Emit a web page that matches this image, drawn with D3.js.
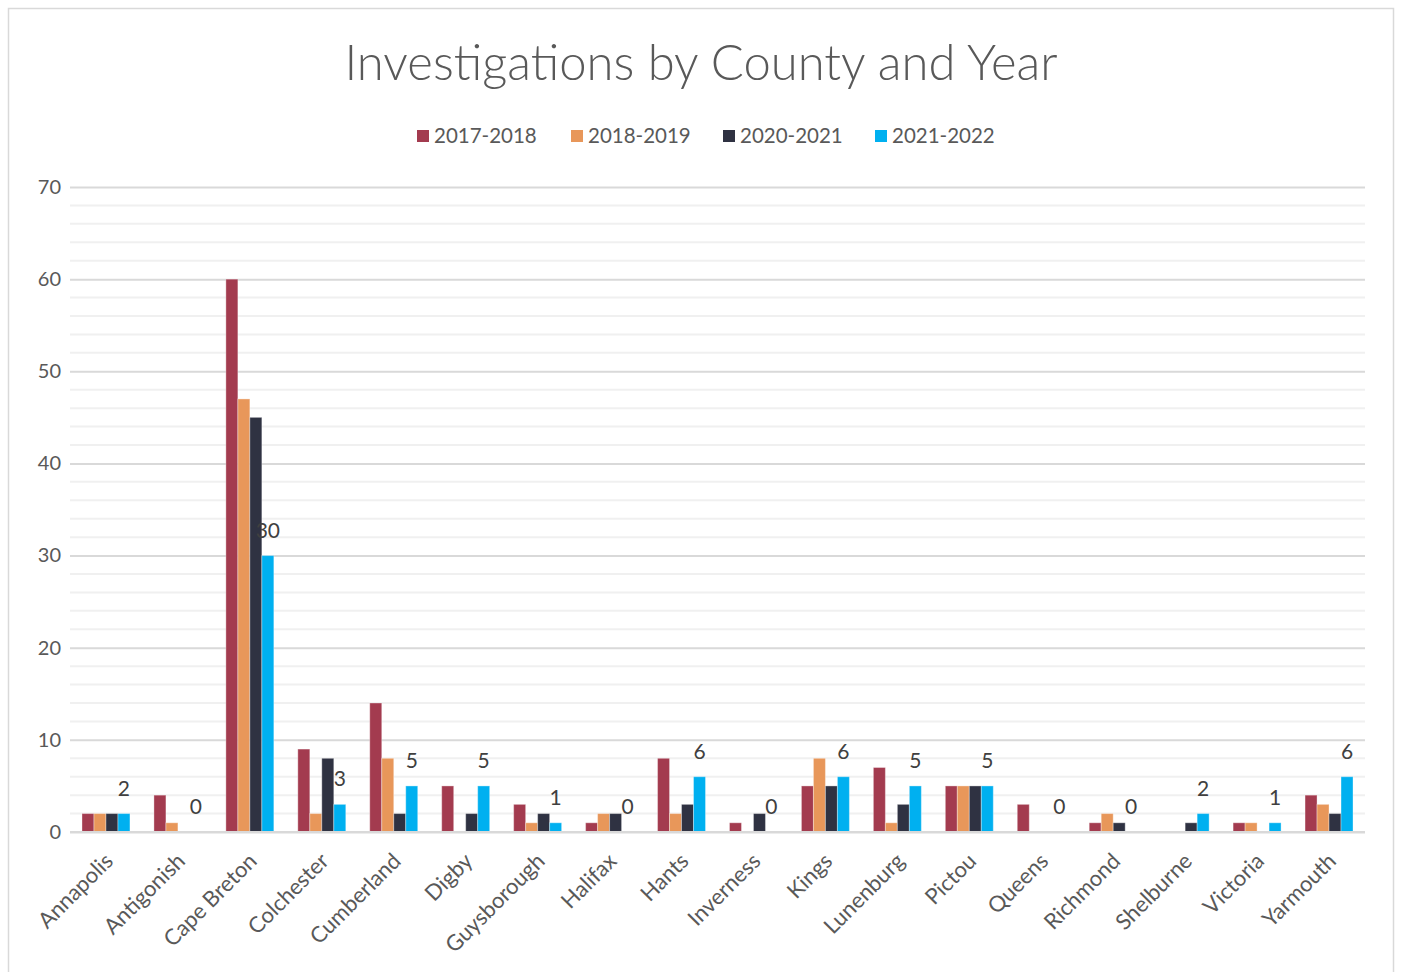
<!DOCTYPE html>
<html><head><meta charset="utf-8">
<script src="https://cdn.jsdelivr.net/npm/d3@7"></script>
<style>
html,body{margin:0;padding:0;background:#fff;}
text{font-family:Lato,"Open Sans",sans-serif;}
</style></head>
<body><svg id="c" width="1401" height="972"></svg>
<script>
const categories = ["Annapolis","Antigonish","Cape Breton","Colchester","Cumberland","Digby","Guysborough","Halifax","Hants","Inverness","Kings","Lunenburg","Pictou","Queens","Richmond","Shelburne","Victoria","Yarmouth"];
const seriesNames = ["2017-2018","2018-2019","2020-2021","2021-2022"];
const s2017 = [2,4,60,9,14,5,3,1,8,1,5,7,5,3,1,0,1,4];
const s2018 = [2,1,47,2,8,0,1,2,2,0,8,1,5,0,2,0,1,3];
const s2020 = [2,0,45,8,2,2,2,2,3,2,5,3,5,0,1,1,0,2];
const s2021 = [2,0,30,3,5,5,1,0,6,0,6,5,5,0,0,2,1,6];
const yTicks = [0,10,20,30,40,50,60,70];
const colors = ["#A33B4F","#E8975A","#2F3242","#00B0F0"];

const allSeries = [s2017,s2018,s2020,s2021];
const svg = d3.select("#c");
svg.append("rect").attr("x",8.5).attr("y",8.5).attr("width",1385).attr("height",975).attr("fill","#fff").attr("stroke","#d9d9d9").attr("stroke-width",1.5);

const L = 70, R = 1365, T = 187, B = 832;
const x = d3.scaleBand().domain(categories).range([L,R]).paddingInner(1/3).paddingOuter(1/6);
const xs = d3.scaleBand().domain(seriesNames).range([0,x.bandwidth()]);
const y = d3.scaleLinear().domain([0,70]).range([B,T]);

const minor = d3.range(0,71,2).filter(v=>v%10!==0);
svg.append("g").selectAll("line").data(minor).join("line")
  .attr("x1",L).attr("x2",R).attr("y1",d=>y(d)).attr("y2",d=>y(d))
  .attr("stroke","#f0f0f0").attr("stroke-width",2);
const yAxis = d3.axisLeft(y).tickValues(yTicks).tickSize(-(R-L)).tickPadding(9);
const gy = svg.append("g").attr("transform",`translate(${L},0)`).call(yAxis);
gy.select(".domain").remove();
gy.selectAll(".tick line").attr("stroke","#d9d9d9").attr("stroke-width",2);
gy.selectAll(".tick text").attr("fill","#595959").attr("font-size",20);

const groups = svg.append("g").selectAll("g").data(categories).join("g")
  .attr("transform",d=>`translate(${x(d)},0)`);
groups.selectAll("rect").data((c,i)=>allSeries.map((s,k)=>({k,v:s[i]}))).join("rect")
  .attr("x",d=>xs(seriesNames[d.k])).attr("width",xs.bandwidth())
  .attr("y",d=>y(d.v)).attr("height",d=>B-y(d.v))
  .attr("fill",d=>colors[d.k]).attr("stroke","#fff").attr("stroke-opacity",0.35).attr("stroke-width",1);

svg.append("line").attr("x1",L).attr("x2",R).attr("y1",B).attr("y2",B).attr("stroke","#d9d9d9").attr("stroke-width",2);

svg.append("g").selectAll("text").data(categories).join("text")
  .attr("x",(c)=>x(c)+xs(seriesNames[3])+xs.bandwidth()/2)
  .attr("y",(c,i)=>y(s2021[i])-18)
  .attr("text-anchor","middle").attr("font-size",21).attr("fill","#404040")
  .text((c,i)=>s2021[i]);

const xAxis = d3.axisBottom(x).tickSize(0).tickPadding(0);
const gx = svg.append("g").attr("transform",`translate(0,${B})`).call(xAxis);
gx.select(".domain").remove();
gx.selectAll(".tick text").attr("font-size",22).attr("fill","#595959")
  .attr("text-anchor","end").attr("dy","0.35em")
  .attr("transform","translate(3,25) rotate(-45)");

svg.append("text").attr("x",701).attr("y",80).attr("text-anchor","middle")
  .attr("font-size",49).attr("font-weight",300).attr("fill","#595959")
  .text("Investigations by County and Year");

const legX = [417,571,723,875];
const lg = svg.append("g").selectAll("g").data(seriesNames).join("g")
  .attr("transform",(d,i)=>`translate(${legX[i]},136)`);
lg.append("rect").attr("x",0).attr("y",-6).attr("width",12).attr("height",12).attr("fill",(d,i)=>colors[i]);
lg.append("text").attr("x",17).attr("dy","0.35em").attr("font-size",20.5).attr("fill","#595959").text(d=>d);
</script></body></html>
